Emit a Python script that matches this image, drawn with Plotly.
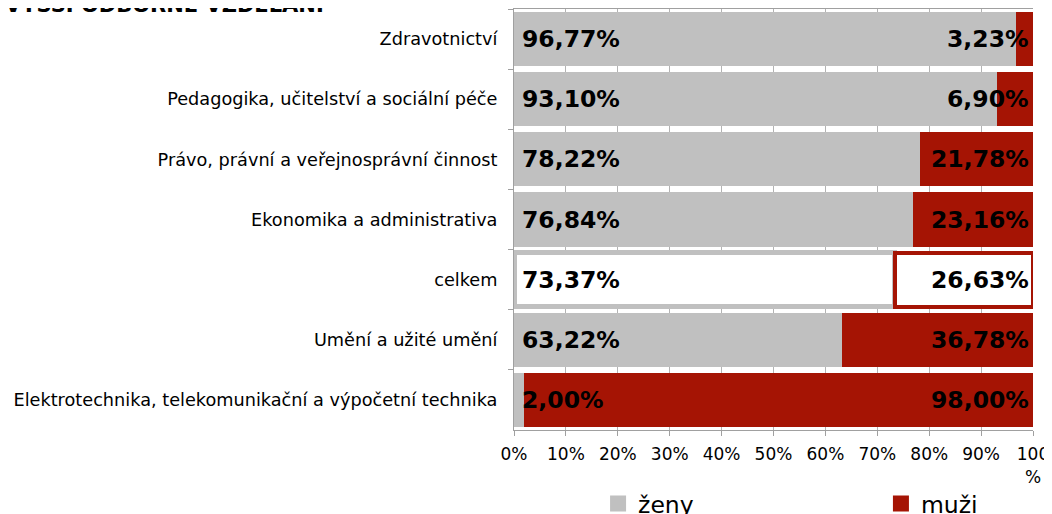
import plotly.graph_objects as go

categories = [
    "Zdravotnictví",
    "Pedagogika, učitelství a sociální péče",
    "Právo, právní a veřejnosprávní činnost",
    "Ekonomika a administrativa",
    "celkem",
    "Umění a užité umění",
    "Elektrotechnika, telekomunikační a výpočetní technika",
]
zeny = [96.77, 93.10, 78.22, 76.84, 73.37, 63.22, 2.00]
muzi = [3.23, 6.90, 21.78, 23.16, 26.63, 36.78, 98.00]
x_tickvals = [0, 10, 20, 30, 40, 50, 60, 70, 80, 90, 100]
x_ticktext = ["0%", "10%", "20%", "30%", "40%", "50%", "60%", "70%", "80%", "90%", "100<br>%"]
title_text = "VYŠŠÍ ODBORNÉ VZDĚLÁNÍ"

GRAY = "#c0c0c0"
RED = "#a51404"
FONT = "DejaVu Sans"

def fmt(v):
    return f"{v:.2f}".replace(".", ",") + "%"

is_total = [c == "celkem" for c in categories]

fig = go.Figure()
fig.add_trace(go.Bar(
    y=categories, x=zeny, orientation="h", name="ženy",
    marker=dict(color=["white" if t else GRAY for t in is_total],
                line=dict(color=GRAY, width=[5 if t else 0 for t in is_total])),
    showlegend=False,
))
fig.add_trace(go.Bar(
    y=categories, x=muzi, orientation="h", name="muži",
    marker=dict(color=["white" if t else RED for t in is_total],
                line=dict(color=RED, width=[4 if t else 0 for t in is_total])),
    showlegend=False,
))
# legend proxies
fig.add_trace(go.Scatter(x=[None], y=[None], mode="markers", name="ženy", legend="legend",
                         marker=dict(symbol="square", size=16, color=GRAY)))
fig.add_trace(go.Scatter(x=[None], y=[None], mode="markers", name="muži", legend="legend2",
                         marker=dict(symbol="square", size=16, color=RED)))

annotations = []
for c, z, m in zip(categories, zeny, muzi):
    annotations.append(dict(x=0, y=c, xref="x", yref="y", text=fmt(z), showarrow=False,
                            xanchor="left", xshift=6,
                            font=dict(family=FONT, size=23.5, color="black", weight="bold")))
    annotations.append(dict(x=100, y=c, xref="x", yref="y", text=fmt(m), showarrow=False,
                            xanchor="right", xshift=-2,
                            font=dict(family=FONT, size=23.5, color="black", weight="bold")))
annotations.append(dict(x=-0.985, y=0.977, xref="paper", yref="paper",
                        text="<b>" + title_text + "</b>", showarrow=False,
                        xanchor="left", yanchor="bottom",
                        font=dict(family=FONT, size=21, color="black")))

legend_common = dict(orientation="h", yanchor="middle", y=-0.175,
                     font=dict(family=FONT, size=23.5, color="black"),
                     bgcolor="rgba(0,0,0,0)", xanchor="left")

fig.update_layout(
    width=1052, height=514,
    barmode="stack", bargap=0.1,
    plot_bgcolor="white", paper_bgcolor="white",
    margin=dict(l=506, r=27, t=1, b=92, autoexpand=False),
    font=dict(family=FONT, size=17, color="black"),
    annotations=annotations,
    legend=dict(x=0.162, **legend_common),
    legend2=dict(x=0.707, **legend_common),
    xaxis=dict(range=[0, 100], tickvals=x_tickvals, ticktext=x_ticktext,
               showgrid=True, gridcolor="#b3b3b3", gridwidth=1,
               showline=True, linecolor="#a0a0a0", mirror=True,
               ticks="outside", ticklen=5, tickcolor="#a0a0a0",
               zeroline=False, tickfont=dict(size=17), ticklabelstandoff=4,
               automargin=False, fixedrange=True),
    yaxis=dict(autorange="reversed", showline=True, linecolor="#a0a0a0",
               ticks="outside", ticklen=5, tickcolor="#a0a0a0", tickson="boundaries",
               showgrid=False, tickfont=dict(size=17.7), ticklabelstandoff=12,
               automargin=False, fixedrange=True),
)

fig.write_html("out.html")
